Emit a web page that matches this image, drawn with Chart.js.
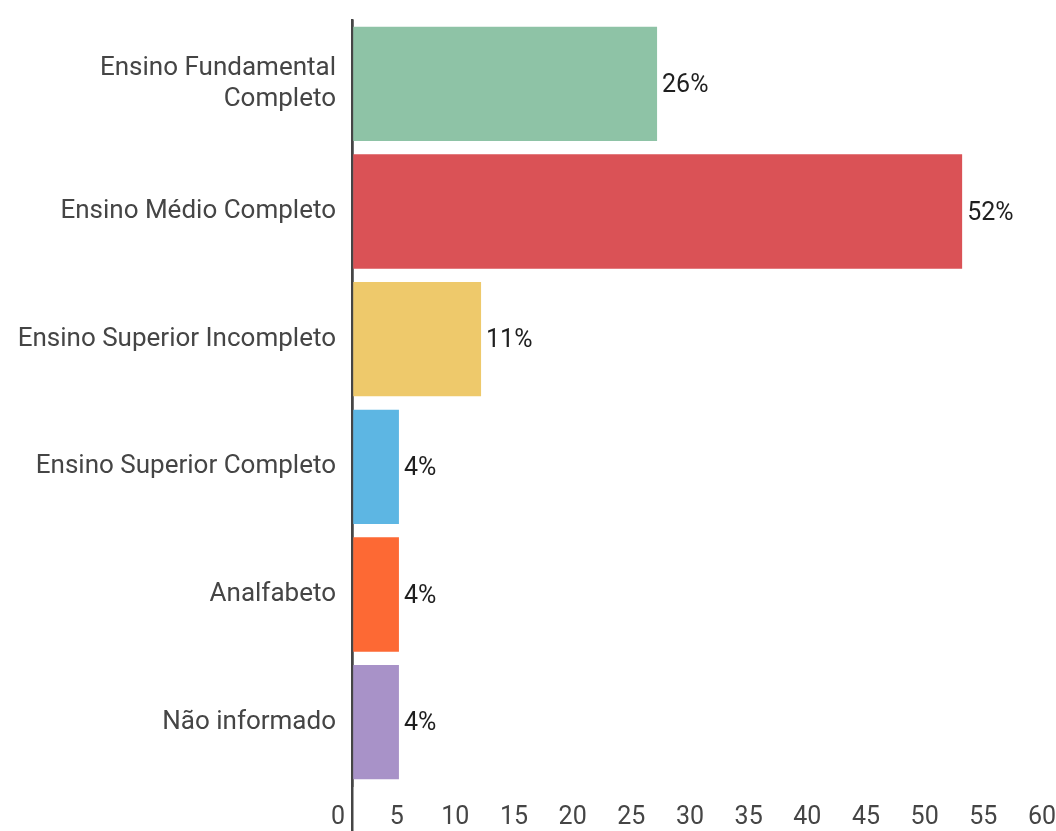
<!DOCTYPE html>
<html>
<head>
<meta charset="utf-8">
<script src="https://cdn.jsdelivr.net/npm/chart.js@4.4.1/dist/chart.umd.min.js"></script>
<style>
  html, body { margin: 0; padding: 0; background: #ffffff; }
  #wrap { position: relative; width: 1056px; height: 831px; }
</style>
</head>
<body>
<div id="wrap"><canvas id="chart" width="1056" height="831"></canvas></div>
<script>
// Escolaridade dos participantes (%)
const categories = [
  ['Ensino Fundamental', 'Completo'],
  'Ensino Médio Completo',
  'Ensino Superior Incompleto',
  'Ensino Superior Completo',
  'Analfabeto',
  'Não informado'
];
const percentages = [26, 52, 11, 4, 4, 4];
const barColors = ['#8EC3A6', '#DA5256', '#EEC96B', '#5DB6E3', '#FD6934', '#A892C8'];
const axisMin = 0;
const axisMax = 60;
const axisStep = 5;

const FONT = 'Roboto, "Noto Sans", sans-serif';
const AXIS_COLOR = '#454545';

// Writes "NN%" just past the end of each bar
const valueLabels = {
  id: 'valueLabels',
  afterDatasetsDraw(chart) {
    const { ctx } = chart;
    const meta = chart.getDatasetMeta(0);
    ctx.save();
    ctx.font = '25px ' + FONT;
    ctx.fillStyle = '#1f1f1f';
    ctx.textAlign = 'left';
    ctx.textBaseline = 'middle';
    meta.data.forEach((bar, i) => {
      ctx.fillText(percentages[i] + '%', bar.x + 5, bar.y + 2);
    });
    ctx.restore();
  }
};

new Chart(document.getElementById('chart'), {
  type: 'bar',
  data: {
    labels: categories,
    datasets: [{
      data: percentages,
      backgroundColor: barColors,
      borderWidth: 0,
      barPercentage: 0.895,
      categoryPercentage: 1.0
    }]
  },
  options: {
    indexAxis: 'y',
    responsive: false,
    animation: false,
    layout: { padding: { top: 20, right: 0, bottom: 0, left: 0 } },
    plugins: {
      legend: { display: false },
      tooltip: { enabled: false }
    },
    scales: {
      x: {
        min: axisMin,
        max: axisMax,
        z: 1,
        border: { display: false },
        grid: {
          drawOnChartArea: true,
          drawTicks: true,
          tickLength: 45,
          lineWidth: 2.5,
          color: (c) => (c.index === 0 ? AXIS_COLOR : 'rgba(0,0,0,0)')
        },
        ticks: {
          stepSize: axisStep,
          padding: -28,
          labelOffset: -14,
          color: AXIS_COLOR,
          font: { family: FONT, size: 25 }
        },
        afterFit(scale) {
          scale.height = 45;
          scale.paddingLeft = 0;
          scale.paddingRight = 0;
        }
      },
      y: {
        z: 1,
        border: { display: true, color: AXIS_COLOR, width: 2.5 },
        grid: { display: false },
        ticks: {
          padding: 8,
          color: AXIS_COLOR,
          font: { family: FONT, size: 26, lineHeight: 1.2 }
        },
        afterFit(scale) {
          scale.width = 352;
          scale.paddingTop = 0;
          scale.paddingBottom = 0;
        }
      }
    }
  },
  plugins: [valueLabels]
});
</script>
</body>
</html>
